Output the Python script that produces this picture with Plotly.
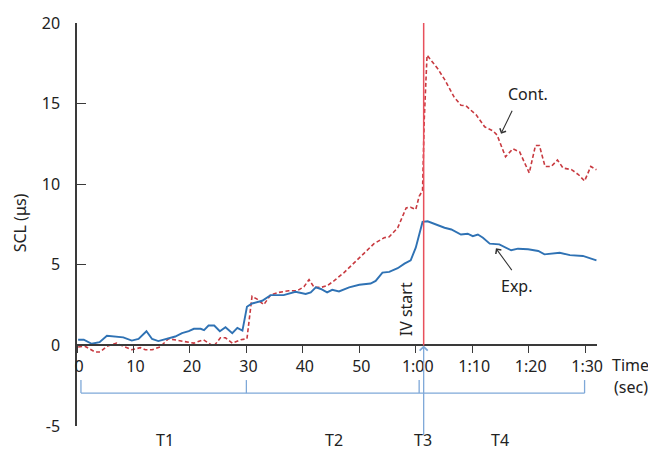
import plotly.graph_objects as go

# ---- data ----
exp_t = [0.2, 1.2, 2.6, 4, 5.3, 6.3, 7.3, 8.2, 9.7, 10.9, 12.3, 13.3, 14.4, 15.9, 17.4,
         18.6, 19.8, 20.7, 21.9, 22.5, 23.3, 24.3, 25.3, 26.3, 27.5, 28.4, 29.3, 30.1, 31.0, 32.8,
         34.3, 36.6, 38.7, 40.5, 41.4, 42.3, 43.2, 44.3, 45.2, 46.4, 48.2, 50.0, 52.0, 52.9, 54.1,
         55.3, 56.8, 58.0, 59.1, 60.0, 61.2, 62.1, 63.3, 65.1, 66.3, 68.0, 69.2, 70.1, 71.0, 71.9,
         73.1, 74.8, 76.9, 78.1, 79.9, 81.7, 82.8, 84.0, 85.5, 87.3, 89.6, 92.0]
exp_y = [0.35, 0.35, 0.1, 0.2, 0.6, 0.55, 0.5, 0.5, 0.3, 0.4, 0.88, 0.4, 0.27, 0.4, 0.55,
         0.76, 0.88, 1.03, 1.03, 0.95, 1.23, 1.23, 0.88, 1.13, 0.76, 1.09, 0.92, 2.4, 2.6, 2.77,
         3.12, 3.12, 3.33, 3.19, 3.29, 3.6, 3.5, 3.29, 3.45, 3.35, 3.6, 3.76, 3.84, 4.0, 4.52,
         4.56, 4.79, 5.07, 5.28, 6.06, 7.66, 7.7, 7.54, 7.3, 7.19, 6.88, 6.93, 6.78, 6.88, 6.68,
         6.31, 6.27, 5.9, 6.0, 5.96, 5.86, 5.65, 5.69, 5.75, 5.6, 5.55, 5.28]

cont_t = [0.2, 1.4, 3.2, 4.1, 5.3, 7.0, 8.5, 9.7, 11.2, 12.1, 13.3, 14.7, 16.2, 17.4, 18.9,
          20.7, 22.4, 24.2, 25.4, 26.3, 27.5, 29.0, 30.1, 31.0, 31.9, 33.1, 34.3, 35.8, 37.5, 39.0,
          40.2, 41.1, 42.0, 43.2, 44.3, 45.5, 47.3, 49.1, 50.9, 52.6, 54.4, 55.3, 56.8, 58.3, 59.1,
          60.0, 60.6, 61.2, 61.5, 62.0, 63.9, 65.1, 66.8, 68.0, 68.9, 70.7, 72.2, 73.7, 74.4, 75.9,
          77.2, 78.4, 80.1, 81.2, 81.9, 82.9, 84.0, 85.1, 86.1, 87.6, 88.8, 89.9, 91.0, 92.0]
cont_y = [-0.1, -0.05, -0.41, -0.41, -0.06, 0.14, -0.1, -0.27, -0.14, -0.27, -0.27, -0.1, 0.41, 0.35, 0.25,
          0.14, 0.35, -0.06, 0.47, 0.47, 0.14, 0.35, 0.41, 3.05, 2.87, 2.53, 3.14, 3.29, 3.39, 3.39,
          3.64, 4.08, 3.6, 3.6, 3.7, 4.0, 4.52, 5.14, 5.75, 6.31, 6.68, 6.74, 7.29, 8.53, 8.57,
          8.43, 9.25, 9.6, 14.0, 18.0, 17.16, 16.5, 15.4, 14.9, 14.86, 14.3, 13.56, 13.3, 13.05, 11.7,
          12.2, 12.0, 10.7, 12.4, 12.4, 11.1, 11.1, 11.5, 11.0, 10.9, 10.6, 10.2, 11.1, 10.9]

x_tickvals = [0, 10, 20, 30, 40, 50, 60, 70, 80, 90]
x_ticktext = ["0", "10", "20", "30", "40", "50", "1:00", "1:10", "1:20", "1:30"]
y_tickvals = [-5, 0, 5, 10, 15, 20]
y_ticktext = ["-5", "0", "5", "10", "15", "20"]

iv_start = 61.4
phase_bounds = [0.7, 30, 60.6, 89.9]
phase_labels = ["T1", "T2", "T3", "T4"]
phase_label_x = [15.5, 45.5, 61.2, 75.0]

FONT = "Noto Sans, Open Sans, sans-serif"
AXC = "#3a3a3a"
BLUE = "#2f72b4"
RED = "#c83a40"
VRED = "#e8505c"
LBLUE = "#7ea8d8"

fig = go.Figure()
fig.add_trace(go.Scatter(x=cont_t, y=cont_y, mode="lines",
                         line=dict(color=RED, width=1.6, dash="4px,2.5px"), showlegend=False))
fig.add_trace(go.Scatter(x=exp_t, y=exp_y, mode="lines",
                         line=dict(color=BLUE, width=1.9), showlegend=False))

shapes = []
shapes.append(dict(type="line", xref="x", yref="y", x0=iv_start, x1=iv_start, y0=0, y1=20,
                   line=dict(color=VRED, width=1.5), layer="above"))
yb, yt = -2.96, -2.15
shapes.append(dict(type="line", xref="x", yref="y", x0=phase_bounds[0], x1=phase_bounds[-1],
                   y0=yb, y1=yb, line=dict(color=LBLUE, width=1.3)))
for b in phase_bounds:
    shapes.append(dict(type="line", xref="x", yref="y", x0=b, x1=b, y0=yb, y1=yt,
                       line=dict(color=LBLUE, width=1.3)))

annotations = []
annotations.append(dict(x=iv_start, y=0, xref="x", yref="y", ax=iv_start, ay=-5.67,
                        axref="x", ayref="y", text="", showarrow=True, arrowhead=4,
                        arrowsize=1.2, arrowwidth=1.3, arrowcolor=LBLUE))
annotations.append(dict(x=75.1, y=13.13, xref="x", yref="y", ax=77.2, ay=14.65,
                        axref="x", ayref="y", text="", showarrow=True, arrowhead=4,
                        arrowsize=1.2, arrowwidth=1.1, arrowcolor="#333333"))
annotations.append(dict(x=74.2, y=6.02, xref="x", yref="y", ax=77.2, ay=4.58,
                        axref="x", ayref="y", text="", showarrow=True, arrowhead=4,
                        arrowsize=1.2, arrowwidth=1.1, arrowcolor="#333333"))
annotations.append(dict(x=79.9, y=15.6, xref="x", yref="y", text="Cont.", showarrow=False,
                        font=dict(size=16, color="#222", family=FONT)))
annotations.append(dict(x=78.0, y=3.7, xref="x", yref="y", text="Exp.", showarrow=False,
                        font=dict(size=16, color="#222", family=FONT)))
annotations.append(dict(x=58.3, y=2.25, xref="x", yref="y", text="IV start", textangle=-90,
                        showarrow=False, font=dict(size=16, color="#222", family=FONT)))
for lbl, lx in zip(phase_labels, phase_label_x):
    annotations.append(dict(x=lx, y=-0.035, xref="x", yref="paper", text=lbl, showarrow=False,
                            yanchor="middle", font=dict(size=16, color="#222", family=FONT)))
annotations.append(dict(x=1.025, y=0.2 - 0.017, xref="paper", yref="paper", text="Time",
                        showarrow=False, xanchor="left", yanchor="top",
                        font=dict(size=16, color="#222", family=FONT)))
annotations.append(dict(x=1.028, y=0.2 - 0.07, xref="paper", yref="paper", text="(sec)",
                        showarrow=False, xanchor="left", yanchor="top",
                        font=dict(size=16, color="#222", family=FONT)))
annotations.append(dict(x=-0.108, y=0.505, xref="paper", yref="paper", text="SCL (μs)",
                        textangle=-90, showarrow=False, xanchor="center", yanchor="middle",
                        font=dict(size=16, color="#222", family=FONT)))

fig.update_layout(
    width=648, height=450,
    margin=dict(l=77, r=51, t=20, b=24),
    paper_bgcolor="white", plot_bgcolor="white",
    font=dict(family=FONT, size=16, color="#222"),
    shapes=shapes, annotations=annotations,
    xaxis=dict(range=[0, 92.1], showgrid=False, zeroline=False,
               showline=True, linecolor=AXC, linewidth=1.5,
               ticks="outside", ticklen=7, tickwidth=1.3, tickcolor=AXC,
               tickvals=x_tickvals, ticktext=x_ticktext,
               anchor="free", position=0.2, ticklabelshift=2,
               tickfont=dict(size=16, family=FONT, color="#222")),
    yaxis=dict(range=[-5, 20], showgrid=False, zeroline=False,
               showline=True, linecolor=AXC, linewidth=1.5,
               ticks="inside", ticklen=9, tickwidth=1.3, tickcolor=AXC,
               tickvals=y_tickvals, ticktext=y_ticktext, ticklabelstandoff=12,
               tickfont=dict(size=16, family=FONT, color="#222")),
)

fig.write_html("out.html", config={"displayModeBar": False},
               post_script="document.body.style.margin='0';document.body.style.padding='0';"
                           "document.documentElement.style.overflow='hidden';")
